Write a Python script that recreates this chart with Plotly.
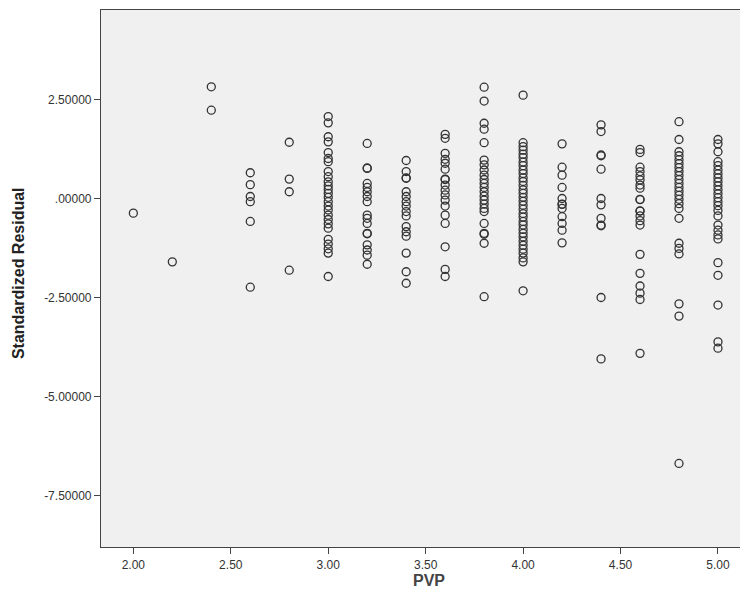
import plotly.graph_objects as go

# Standardized residual values per PVP level
pvp_levels = [2.0, 2.2, 2.4, 2.6, 2.8, 3.0, 3.2, 3.4, 3.6, 3.8, 4.0, 4.2, 4.4, 4.6, 4.8, 5.0]

res_200 = [-0.37]
res_220 = [-1.60]
res_240 = [2.82, 2.23]
res_260 = [0.65, 0.35, 0.05, -0.08, -0.58, -2.24]
res_280 = [1.42, 0.49, 0.17, -1.81]
res_300 = [2.07, 1.91, 1.56, 1.43, 1.16, 1.01, 0.93, 0.68, 0.55, 0.42, 0.32, 0.23,
           0.13, 0.03, -0.08, -0.19, -0.29, -0.42, -0.53, -0.64, -0.75, -1.03,
           -1.15, -1.27, -1.38, -1.97]
res_320 = [1.39, 0.76, 0.77, 0.38, 0.28, 0.17, 0.05, -0.08, -0.42, -0.50, -0.63,
           -0.88, -0.89, -1.17, -1.30, -1.43, -1.66]
res_340 = [0.96, 0.68, 0.51, 0.52, 0.17, 0.05, -0.08, -0.19, -0.33, -0.44, -0.71,
           -0.84, -0.95, -1.38, -1.85, -2.14]
res_360 = [1.62, 1.52, 1.14, 0.99, 0.89, 0.74, 0.48, 0.49, 0.34, 0.21, 0.09, -0.04,
           -0.19, -0.42, -0.63, -1.22, -1.79, -1.97]
res_380 = [2.81, 2.46, 1.90, 1.75, 1.41, 0.97, 0.85, 0.72, 0.59, 0.48, 0.38, 0.28,
           0.17, 0.06, -0.04, -0.14, -0.25, -0.33, -0.63, -0.88, -0.90, -1.13, -2.48]
res_400 = [2.61, 1.41, 1.31, 1.22, 1.12, 1.03, 0.92, 0.83, 0.72, 0.63, 0.52, 0.43,
           0.33, 0.22, 0.13, 0.03, -0.07, -0.17, -0.27, -0.38, -0.47, -0.58, -0.67,
           -0.78, -0.88, -0.97, -1.08, -1.18, -1.28, -1.38, -1.50, -1.60, -2.33]
res_420 = [1.38, 0.79, 0.59, 0.28, 0.00, -0.14, -0.15, -0.25, -0.46, -0.63, -0.80, -1.12]
res_440 = [1.86, 1.69, 1.10, 1.08, 0.74, 0.00, -0.16, -0.50, -0.67, -0.69, -2.50, -4.05]
res_460 = [1.24, 1.16, 0.79, 0.68, 0.57, 0.47, 0.34, 0.26, -0.02, -0.03, -0.31,
           -0.32, -0.44, -0.56, -0.67, -1.41, -1.89, -2.21, -2.39, -2.55, -3.91]
res_480 = [1.94, 1.49, 1.18, 1.08, 0.98, 0.88, 0.78, 0.68, 0.58, 0.48, 0.38, 0.28,
           0.18, 0.08, -0.02, -0.13, -0.25, -0.50, -1.13, -1.26, -1.40, -2.66,
           -2.97, -6.69]
res_500 = [1.49, 1.38, 1.18, 0.93, 0.83, 0.72, 0.62, 0.52, 0.42, 0.32, 0.22, 0.12,
           0.02, -0.08, -0.18, -0.30, -0.44, -0.67, -0.80, -0.92, -1.02, -1.62,
           -1.94, -2.69, -3.62, -3.78]

residual_groups = [res_200, res_220, res_240, res_260, res_280, res_300, res_320,
                   res_340, res_360, res_380, res_400, res_420, res_440, res_460,
                   res_480, res_500]

y_tick_vals = [2.5, 0.0, -2.5, -5.0, -7.5]
y_tick_text = ["2.50000", ".00000", "-2.50000", "-5.00000", "-7.50000"]
x_tick_vals = [2.0, 2.5, 3.0, 3.5, 4.0, 4.5, 5.0]
x_tick_text = ["2.00", "2.50", "3.00", "3.50", "4.00", "4.50", "5.00"]

xs, ys = [], []
for lvl, grp in zip(pvp_levels, residual_groups):
    for v in grp:
        xs.append(lvl)
        ys.append(v)

fig = go.Figure()
fig.add_trace(go.Scatter(
    x=xs, y=ys, mode="markers",
    marker=dict(symbol="circle-open", size=8, color="#333333",
                line=dict(width=1.3, color="#333333")),
    showlegend=False, hoverinfo="x+y"))

axis_font = dict(family="Liberation Sans Narrow, Arial Narrow, Liberation Sans, sans-serif",
                 size=12, color="#333333")

fig.update_layout(
    width=740, height=602,
    margin=dict(l=101, r=0, t=10, b=55),
    paper_bgcolor="white",
    plot_bgcolor="#F0F0F0",
    xaxis=dict(range=[1.834, 5.113], tickvals=x_tick_vals, ticktext=x_tick_text,
               showgrid=False, zeroline=False, showline=True, linecolor="#444444",
               linewidth=1.2, mirror=True, ticks="outside", ticklen=6,
               tickcolor="#444444", tickfont=axis_font),
    yaxis=dict(range=[-8.80, 4.76], tickvals=y_tick_vals, ticktext=y_tick_text,
               showgrid=False, zeroline=False, showline=True, linecolor="#444444",
               linewidth=1.2, ticks="outside", ticklen=6, tickcolor="#444444",
               tickfont=axis_font),
    annotations=[
        dict(text="<b>Standardized Residual</b>", xref="paper", yref="paper",
             x=-0.130, y=0.51, xanchor="center", yanchor="middle", textangle=-90,
             showarrow=False,
             font=dict(family="Liberation Sans, Arial, sans-serif", size=16, color="#222222")),
        dict(text="<b>PVP</b>", xref="paper", yref="paper",
             x=0.513, y=-0.062, xanchor="center", yanchor="middle",
             showarrow=False,
             font=dict(family="Liberation Sans Narrow, Liberation Sans, Arial, sans-serif",
                       size=16, color="#444444")),
    ],
)

fig.write_html("out.html")
